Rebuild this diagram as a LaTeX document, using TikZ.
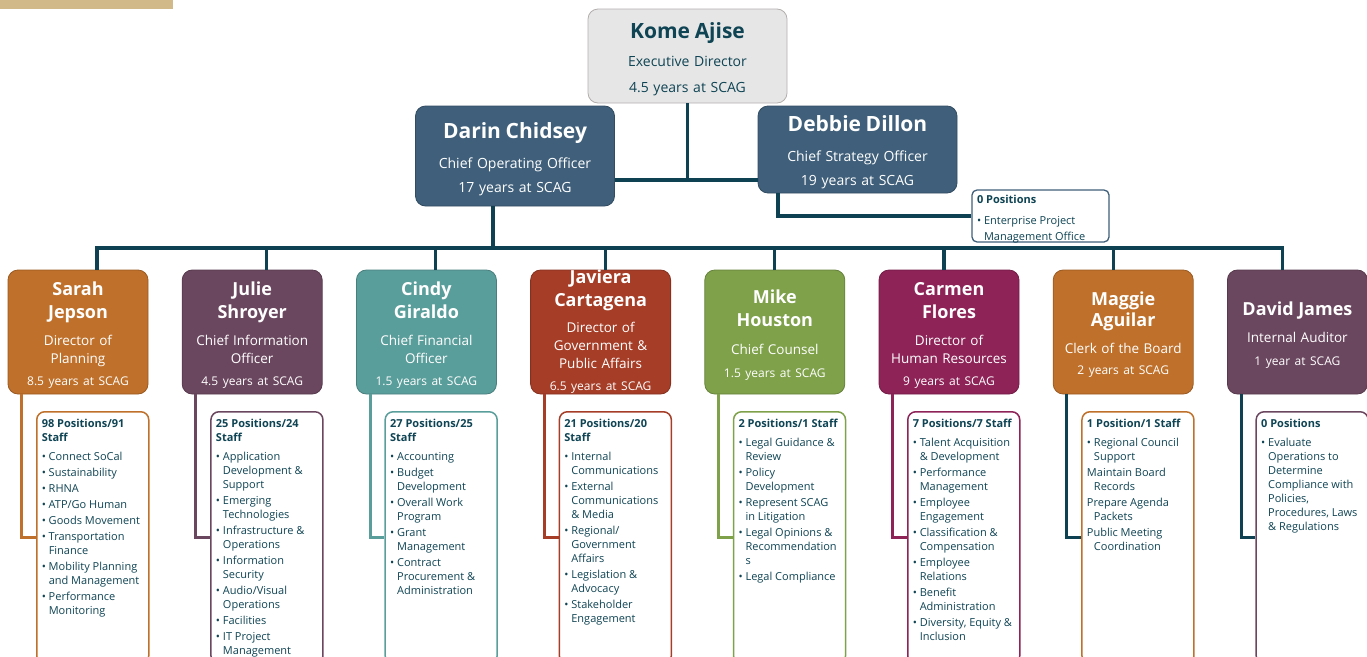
\documentclass[tikz,border=0pt]{standalone}
\usepackage{fontspec}
\setmainfont{Open Sans}
\usepackage{xcolor}
\usepackage{tikz}

\definecolor{ink}{HTML}{0F4454}
\definecolor{cLink}{HTML}{0E4252}
\definecolor{cSteel}{HTML}{3F5F7A}
\definecolor{greyfill}{HTML}{E6E6E6}
\definecolor{greyline}{HTML}{B3AEAE}
\definecolor{sand}{HTML}{D1B98A}
\definecolor{cOrange}{HTML}{BF712B}
\definecolor{cPlum}{HTML}{6B475F}
\definecolor{cTeal}{HTML}{5A9E9B}
\definecolor{cRust}{HTML}{A53D27}
\definecolor{cGreen}{HTML}{7EA14A}
\definecolor{cBerry}{HTML}{8E2358}

\newcommand\lift[1]{\rule{0pt}{#1}}
\newcommand\topname[1]{{\fontsize{21}{21}\selectfont\bfseries #1}}
\newcommand\hdname[1]{{\fontsize{18}{18}\selectfont\bfseries #1}}
\newcommand\yrs[1]{{\fontsize{12}{12}\selectfont #1}}
\newcommand\dhead[1]{\rule{0pt}{15.5pt}\textbf{#1}\par\vspace{3pt}}
\newcommand\ditem[1]{\par\hangindent=7pt\hangafter=1\noindent\makebox[7pt][l]{\textbullet}#1}
\newcommand\dplain[1]{\par\hangindent=7pt\hangafter=1\noindent #1}
\newcommand\dlist[1]{\parbox[t][252pt][t]{102pt}{\raggedright\rightskip=-8pt plus 1fil\setlength\parskip{2pt}#1}}

\begin{document}
\begin{tikzpicture}[x=1pt, y=-1pt,
    topbox/.style={draw=#1!80!black, fill=#1, rounded corners=10pt, line width=0.8pt,
        text width=190pt, align=center, inner sep=0pt, minimum width=199pt},
    headbox/.style={draw=#1!80!black, fill=#1, rounded corners=10pt, line width=0.8pt,
        text=white, text width=134pt, align=center, inner sep=0pt,
        minimum width=140pt, minimum height=124pt, font=\fontsize{13.5}{18}\selectfont},
    detail/.style={draw=#1, fill=white, rounded corners=8pt, line width=1.5pt,
        inner xsep=5pt, inner ysep=0pt, anchor=north west, text=ink,
        font=\fontsize{11}{14}\selectfont},
    link/.style={draw=cLink, line width=3.2pt},
    side/.style={draw=#1, line width=3pt}]
    \clip (0,0) rectangle (1367,656);
    \fill[sand] (0,0) rectangle (173,9);

    \node[topbox=greyfill, draw=greyline, text=ink, minimum height=94pt,
        font=\fontsize{14}{26}\selectfont] (kome) at (687.5,56)
        {\lift{21.5pt}\topname{Kome Ajise}\\[2pt]Executive Director\\4.5 years at SCAG};
    \node[topbox=cSteel, text=white, minimum height=100pt,
        font=\fontsize{14}{24}\selectfont] (darin) at (515,156)
        {\lift{22pt}\topname{Darin Chidsey}\\[6.5pt]Chief Operating Officer\\17 years at SCAG};
    \node[topbox=cSteel, text=white, minimum height=87pt,
        font=\fontsize{14}{24}\selectfont] (debbie) at (857.5,149.5)
        {\lift{21pt}\topname{Debbie Dillon}\\[6.5pt]Chief Strategy Officer\\19 years at SCAG};
    \node[draw=cSteel, fill=white, rounded corners=5pt, line width=1.3pt, inner xsep=5pt,
        inner ysep=0pt, text=ink, font=\fontsize{11}{16}\selectfont] (epmo) at (1040.5,216)
        {\parbox[t][52pt][t]{127pt}{\raggedright\setlength\parskip{2pt}\rule{0pt}{13.7pt}%
        \textbf{0 Positions}\par\vspace{3pt}\ditem{Enterprise Project\newline Management Office}}};

    \node[headbox=cOrange] (sarah) at (78,332)
        {\lift{19.7pt}\hdname{Sarah}\\[5pt]\hdname{Jepson}\\[9pt]Director of\\Planning\\[3.7pt]\yrs{8.5 years at SCAG}};
    \node[headbox=cPlum] (julie) at (252.2,332)
        {\lift{19.7pt}\hdname{Julie}\\[5pt]\hdname{Shroyer}\\[9pt]Chief Information\\Officer\\[3.7pt]\yrs{4.5 years at SCAG}};
    \node[headbox=cTeal] (cindy) at (426.4,332)
        {\lift{19.7pt}\hdname{Cindy}\\[5pt]\hdname{Giraldo}\\[9pt]Chief Financial\\Officer\\[3.7pt]\yrs{1.5 years at SCAG}};
    \node[headbox=cRust] (javiera) at (600.6,332)
        {\hdname{Javiera}\\[5pt]\hdname{Cartagena}\\[7.8pt]Director of\\Government \&\\Public Affairs\\[4.3pt]\yrs{6.5 years at SCAG}};
    \node[headbox=cGreen] (mike) at (774.8,332)
        {\lift{19.7pt}\hdname{Mike}\\[5pt]\hdname{Houston}\\[10pt]Chief Counsel\\[4.5pt]\yrs{1.5 years at SCAG}};
    \node[headbox=cBerry] (carmen) at (949,332)
        {\lift{19.7pt}\hdname{Carmen}\\[5pt]\hdname{Flores}\\[9pt]Director of\\Human Resources\\[3.7pt]\yrs{9 years at SCAG}};
    \node[headbox=cOrange] (maggie) at (1123.2,332)
        {\lift{19.7pt}\hdname{Maggie}\\[3pt]\hdname{Aguilar}\\[8.4pt]Clerk of the Board\\[3.5pt]\yrs{2 years at SCAG}};
    \node[headbox=cPlum] (david) at (1297.4,332)
        {\lift{19.7pt}\hdname{David James}\\[9.4pt]Internal Auditor\\[4.5pt]\yrs{1 year at SCAG}};

    \node[detail=cOrange] (sarahd) at (36,411) {\dlist{\dhead{98 Positions/91\newline Staff}%
        \ditem{Connect SoCal}\ditem{Sustainability}\ditem{RHNA}\ditem{ATP/Go Human}%
        \ditem{Goods Movement}\ditem{Transportation\newline Finance}%
        \ditem{Mobility Planning\newline and Management}\ditem{Performance\newline Monitoring}}};
    \node[detail=cPlum] (julied) at (210.2,411) {\dlist{\dhead{25 Positions/24\newline Staff}%
        \ditem{Application\newline Development \&\newline Support}\ditem{Emerging\newline Technologies}%
        \ditem{Infrastructure \&\newline Operations}\ditem{Information\newline Security}%
        \ditem{Audio/Visual\newline Operations}\ditem{Facilities}\ditem{IT Project\newline Management}}};
    \node[detail=cTeal] (cindyd) at (384.4,411) {\dlist{\dhead{27 Positions/25\newline Staff}%
        \ditem{Accounting}\ditem{Budget\newline Development}\ditem{Overall Work\newline Program}%
        \ditem{Grant\newline Management}\ditem{Contract\newline Procurement \&\newline Administration}}};
    \node[detail=cRust] (javierad) at (558.6,411) {\dlist{\dhead{21 Positions/20\newline Staff}%
        \ditem{Internal\newline Communications}\ditem{External\newline Communications\newline \& Media}%
        \ditem{Regional/\newline Government\newline Affairs}\ditem{Legislation \&\newline Advocacy}%
        \ditem{Stakeholder\newline Engagement}}};
    \node[detail=cGreen] (miked) at (732.8,411) {\dlist{\dhead{2 Positions/1 Staff}%
        \ditem{Legal Guidance \&\newline Review}\ditem{Policy\newline Development}%
        \ditem{Represent SCAG\newline in Litigation}\ditem{Legal Opinions \&\newline Recommendation\newline s}%
        \ditem{Legal Compliance}}};
    \node[detail=cBerry] (carmend) at (907,411) {\dlist{\dhead{7 Positions/7 Staff}%
        \ditem{Talent Acquisition\newline \& Development}\ditem{Performance\newline Management}%
        \ditem{Employee\newline Engagement}\ditem{Classification \&\newline Compensation}%
        \ditem{Employee\newline Relations}\ditem{Benefit\newline Administration}%
        \ditem{Diversity, Equity \&\newline Inclusion}}};
    \node[detail=cOrange] (maggied) at (1081.2,411) {\dlist{\dhead{1 Position/1 Staff}%
        \ditem{Regional Council\newline Support}\dplain{Maintain Board\newline Records}%
        \dplain{Prepare Agenda\newline Packets}\dplain{Public Meeting\newline Coordination}}};
    \node[detail=cPlum] (davidd) at (1255.4,411) {\dlist{\dhead{0 Positions}%
        \ditem{Evaluate\newline Operations to\newline Determine\newline Compliance with\newline
        Policies,\newline Procedures, Laws\newline \& Regulations}}};

    \coordinate (mid) at (687.5,180);
    \coordinate (hub) at (493,248);
    \coordinate (tap) at (778,216);
    \coordinate (b1) at (97,248);
    \coordinate (b2) at (266.4,248);
    \coordinate (b3) at (435.8,248);
    \coordinate (b4) at (605.2,248);
    \coordinate (b5) at (774.6,248);
    \coordinate (b6) at (944,248);
    \coordinate (b7) at (1113.4,248);
    \coordinate (b8) at (1282.8,248);

    \draw[link] (kome) -- (mid);
    \draw[link] (darin.east |- mid) -- (debbie.west |- mid);
    \draw[link] (hub |- darin.south) -- (hub);
    \draw[link] (tap |- debbie.south) -- (tap) -- (epmo.west);
    \draw[link] (b1 |- sarah.north) -- (b1) -- (b8) -- (b8 |- david.north);
    \draw[link] (b2) -- (b2 |- julie.north);
    \draw[link] (b3) -- (b3 |- cindy.north);
    \draw[link] (b4) -- (b4 |- javiera.north);
    \draw[link] (b5) -- (b5 |- mike.north);
    \draw[link] (b6) -- (b6 |- carmen.north);
    \draw[link] (b7) -- (b7 |- maggie.north);

    \draw[side=cOrange] ([xshift=14pt]sarah.south west) |- (sarahd.west);
    \draw[side=cPlum] ([xshift=14pt]julie.south west) |- (julied.west);
    \draw[side=cTeal] ([xshift=14pt]cindy.south west) |- (cindyd.west);
    \draw[side=cRust] ([xshift=14pt]javiera.south west) |- (javierad.west);
    \draw[side=cGreen] ([xshift=14pt]mike.south west) |- (miked.west);
    \draw[side=cBerry] ([xshift=14pt]carmen.south west) |- (carmend.west);
    \draw[side=cLink] ([xshift=14pt]maggie.south west) |- (maggied.west);
    \draw[side=cLink] ([xshift=14pt]david.south west) |- (davidd.west);
\end{tikzpicture}
\end{document}
